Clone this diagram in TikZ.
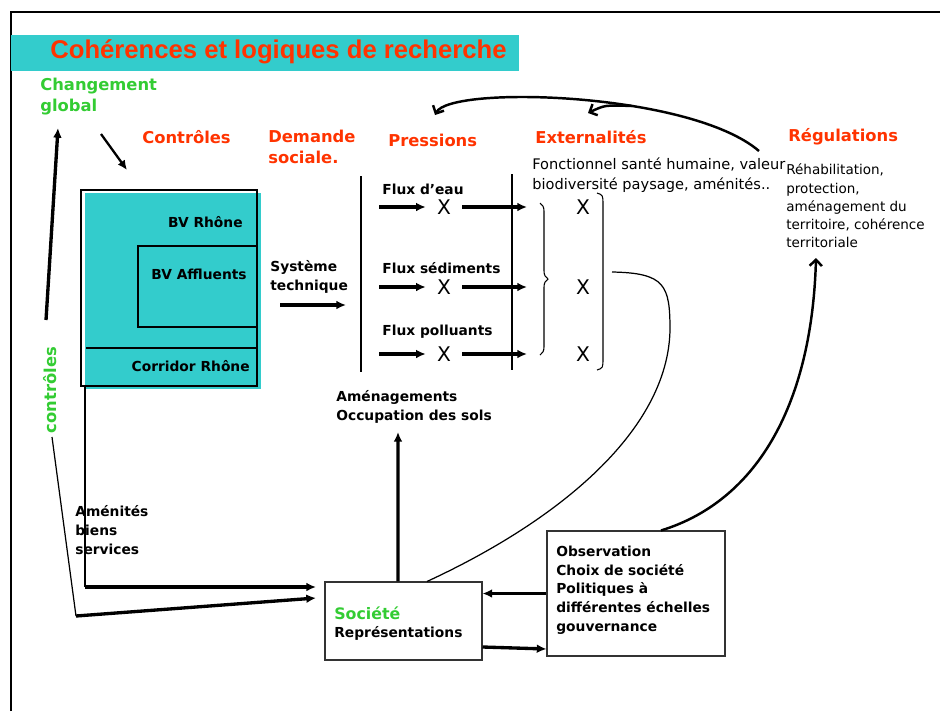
\documentclass[tikz,border=0pt]{standalone}
\usepackage{fontspec}
\setmainfont{DejaVu Sans}
\newfontfamily\titlefont{Liberation Sans}
\usetikzlibrary{arrows.meta,decorations.pathreplacing}

\definecolor{bassin}{HTML}{33CCCC}
\definecolor{rouge}{HTML}{FF3300}
\definecolor{vert}{HTML}{33CC33}

\tikzset{
  rubrique/.style={text=rouge, font=\fontsize{9.3}{11.5}\selectfont\bfseries, align=left, anchor=west, inner sep=0pt},
  vertlbl/.style={text=vert, font=\fontsize{9.3}{12}\selectfont\bfseries, align=left, anchor=west, inner sep=0pt},
  gras/.style={font=\fontsize{7.85}{10.6}\selectfont\bfseries, align=left, anchor=west, inner sep=0pt},
  texte/.style={font=\fontsize{8.3}{11.4}\selectfont, align=left, anchor=west, inner sep=0pt},
  petittexte/.style={font=\fontsize{7.7}{10.4}\selectfont, align=left, anchor=west, inner sep=0pt},
  croix/.style={font=\fontsize{11.5}{12}\selectfont, inner xsep=0.22cm, inner ysep=0pt},
  boite/.style={draw=black!80, line width=0.6pt, inner sep=0pt},
  fleche/.style={-{Latex[length=5.5pt,width=5pt]}, line width=1.9pt},
  lien/.style={-{Straight Barb[length=3.5pt,width=7pt]}, line width=1.4pt},
}

\begin{document}
\begin{tikzpicture}[x=0.02cm, y=-0.02cm]
  \useasboundingbox (0,0) rectangle (940,711);
  % cadre et titre
  \draw[line width=0.9pt] (11,711) -- (11,12) -- (940,12);
  \fill[bassin] (11,35) rectangle (519,71);
  \node[anchor=west, text=rouge, font=\titlefont\fontsize{14.6}{16}\selectfont\bfseries, inner sep=0pt] (titre) at (50,52) {Cohérences et logiques de recherche};

  % rubriques
  \node[vertlbl] (chg) at (40,97) {Changement\\global};
  \node[rubrique] (ctrl) at (142,137) {Contrôles};
  \node[rubrique] (dem) at (268,147) {Demande\\sociale.};
  \node[rubrique] (press) at (388,140) {Pressions};
  \node[rubrique] (ext) at (535,137) {Externalités};
  \node[rubrique] (regl) at (788,137) {Régulations};
  \node[texte] (fonct) at (532,175) {Fonctionnel santé humaine, valeur\\biodiversité paysage, aménités..};
  \node[petittexte] (rehab) at (786,206) {Réhabilitation,\\protection,\\aménagement du\\territoire, cohérence\\territoriale};
  \node[vertlbl, anchor=center, rotate=90] (ctrlv) at (50,390) {contrôles};

  % bassins versants
  \fill[bassin] (85,193) rectangle (261,389);
  \node[boite, draw=black, minimum width=3.52cm, minimum height=3.92cm] (rhone) at (169,288) {};
  \node[boite, draw=black, minimum width=2.38cm, minimum height=1.62cm] (affl) at (197.5,286.5) {};
  \draw[line width=0.6pt] (86,348) -- (rhone.east |- 0,348);
  \node[gras, anchor=east] (bvr) at (243,222) {BV Rhône};
  \node[gras] (bva) at (151,274) {BV Affluents};
  \node[gras, anchor=east] (corr) at (250,366) {Corridor Rhône};

  % flux
  \node[gras] (syst) at (270,277) {Système\\technique};
  \coordinate (systa) at (280,305);
  \coordinate (systb) at (346,305);
  \draw[fleche] (systa) -- (systb);
  \draw[line width=0.6pt] (361,176) -- (361,372);
  \draw[line width=0.6pt] (512,174) -- (512,370);
  \node[gras] (flux1) at (382,189) {Flux d’eau};
  \node[gras] (flux2) at (382,268) {Flux sédiments};
  \node[gras] (flux3) at (382,332) {Flux polluants};
  \foreach \r/\y in {1/207, 2/287, 3/354} {
    \coordinate (dep\r) at (379,\y);
    \coordinate (arr\r) at (527,\y);
    \node[croix] (xa\r) at (444,\y) {X};
    \node[croix] (xb\r) at (583,\y) {X};
    \draw[fleche] (dep\r) -- (xa\r);
    \draw[fleche] (xa\r) -- (arr\r);
  }
  \draw[line width=0.6pt, decorate, decoration={brace, amplitude=0.16cm}] (540,203) -- (540,355);
  \draw[line width=0.6pt] (597,193) .. controls (603,195) .. (603,205) -- (603,358) .. controls (603,368) .. (597,370);
  \coordinate (sortie) at (612,272);

  % boucles du haut
  \coordinate (retour) at (759,151);
  \coordinate (versP) at (435,115);
  \coordinate (branche) at (632,106);
  \coordinate (versE) at (588,113);
  \draw[lien] (retour) .. controls (690,92) and (450,85) .. (versP);
  \draw[lien] (branche) .. controls (605,105) .. (versE);

  % controles et changement global
  \coordinate (cg1) at (101,134);
  \coordinate (cg2) at (127,170);
  \draw[fleche, line width=1.3pt] (cg1) -- (cg2);
  \coordinate (cv1) at (46,320);
  \coordinate (cv2) at (58,128);
  \draw[fleche] (cv1) -- (cv2);
  \coordinate (cb1) at (52,437);
  \coordinate (cb2) at (76,616);
  \coordinate (cb3) at (316,598);
  \draw[line width=0.7pt] (cb1) -- (cb2);
  \draw[fleche] (cb2) -- (cb3);
  \coordinate (rb1) at (85,386);
  \coordinate (rb2) at (85,587);
  \coordinate (rb3) at (316,587);
  \draw[line width=1pt] (rb1) -- (rb2);
  \draw[fleche] (rb2) -- (rb3);
  \node[gras] (amenites) at (75,530) {Aménités\\biens\\services};

  % societe et gouvernance
  \node[boite, minimum width=3.14cm, minimum height=1.56cm] (soc) at (403.5,621) {};
  \node[vertlbl, font=\fontsize{9}{11}\selectfont\bfseries] (soct) at (334,613) {Société};
  \node[gras] (repr) at (334,633) {Représentations};
  \node[boite, minimum width=3.56cm, minimum height=2.5cm] (obs) at (636,593.5) {};
  \node[gras] (obst) at (556,590) {Observation\\Choix de société\\Politiques à\\différentes échelles\\gouvernance};
  \node[gras] (amen) at (336,407) {Aménagements\\Occupation des sols};
  \coordinate (amenp) at (398,432);
  \draw[fleche] ([xshift=-0.11cm]soc.north) -- (amenp);
  \draw[fleche] (obs.west) -- (obs.west -| soc.east);
  \draw[fleche] ([yshift=-0.52cm]soc.east) -- ([yshift=-1.11cm]obs.west);
  \draw[line width=0.7pt] ([xshift=0.47cm]soc.north) .. controls (560,520) and (668,430) .. (670,330) .. controls (670,285) and (665,273) .. (sortie);
  \coordinate (regp) at (816,258);
  \draw[lien] ([xshift=0.5cm]obs.north) .. controls (760,500) and (812,400) .. (regp);
\end{tikzpicture}
\end{document}
